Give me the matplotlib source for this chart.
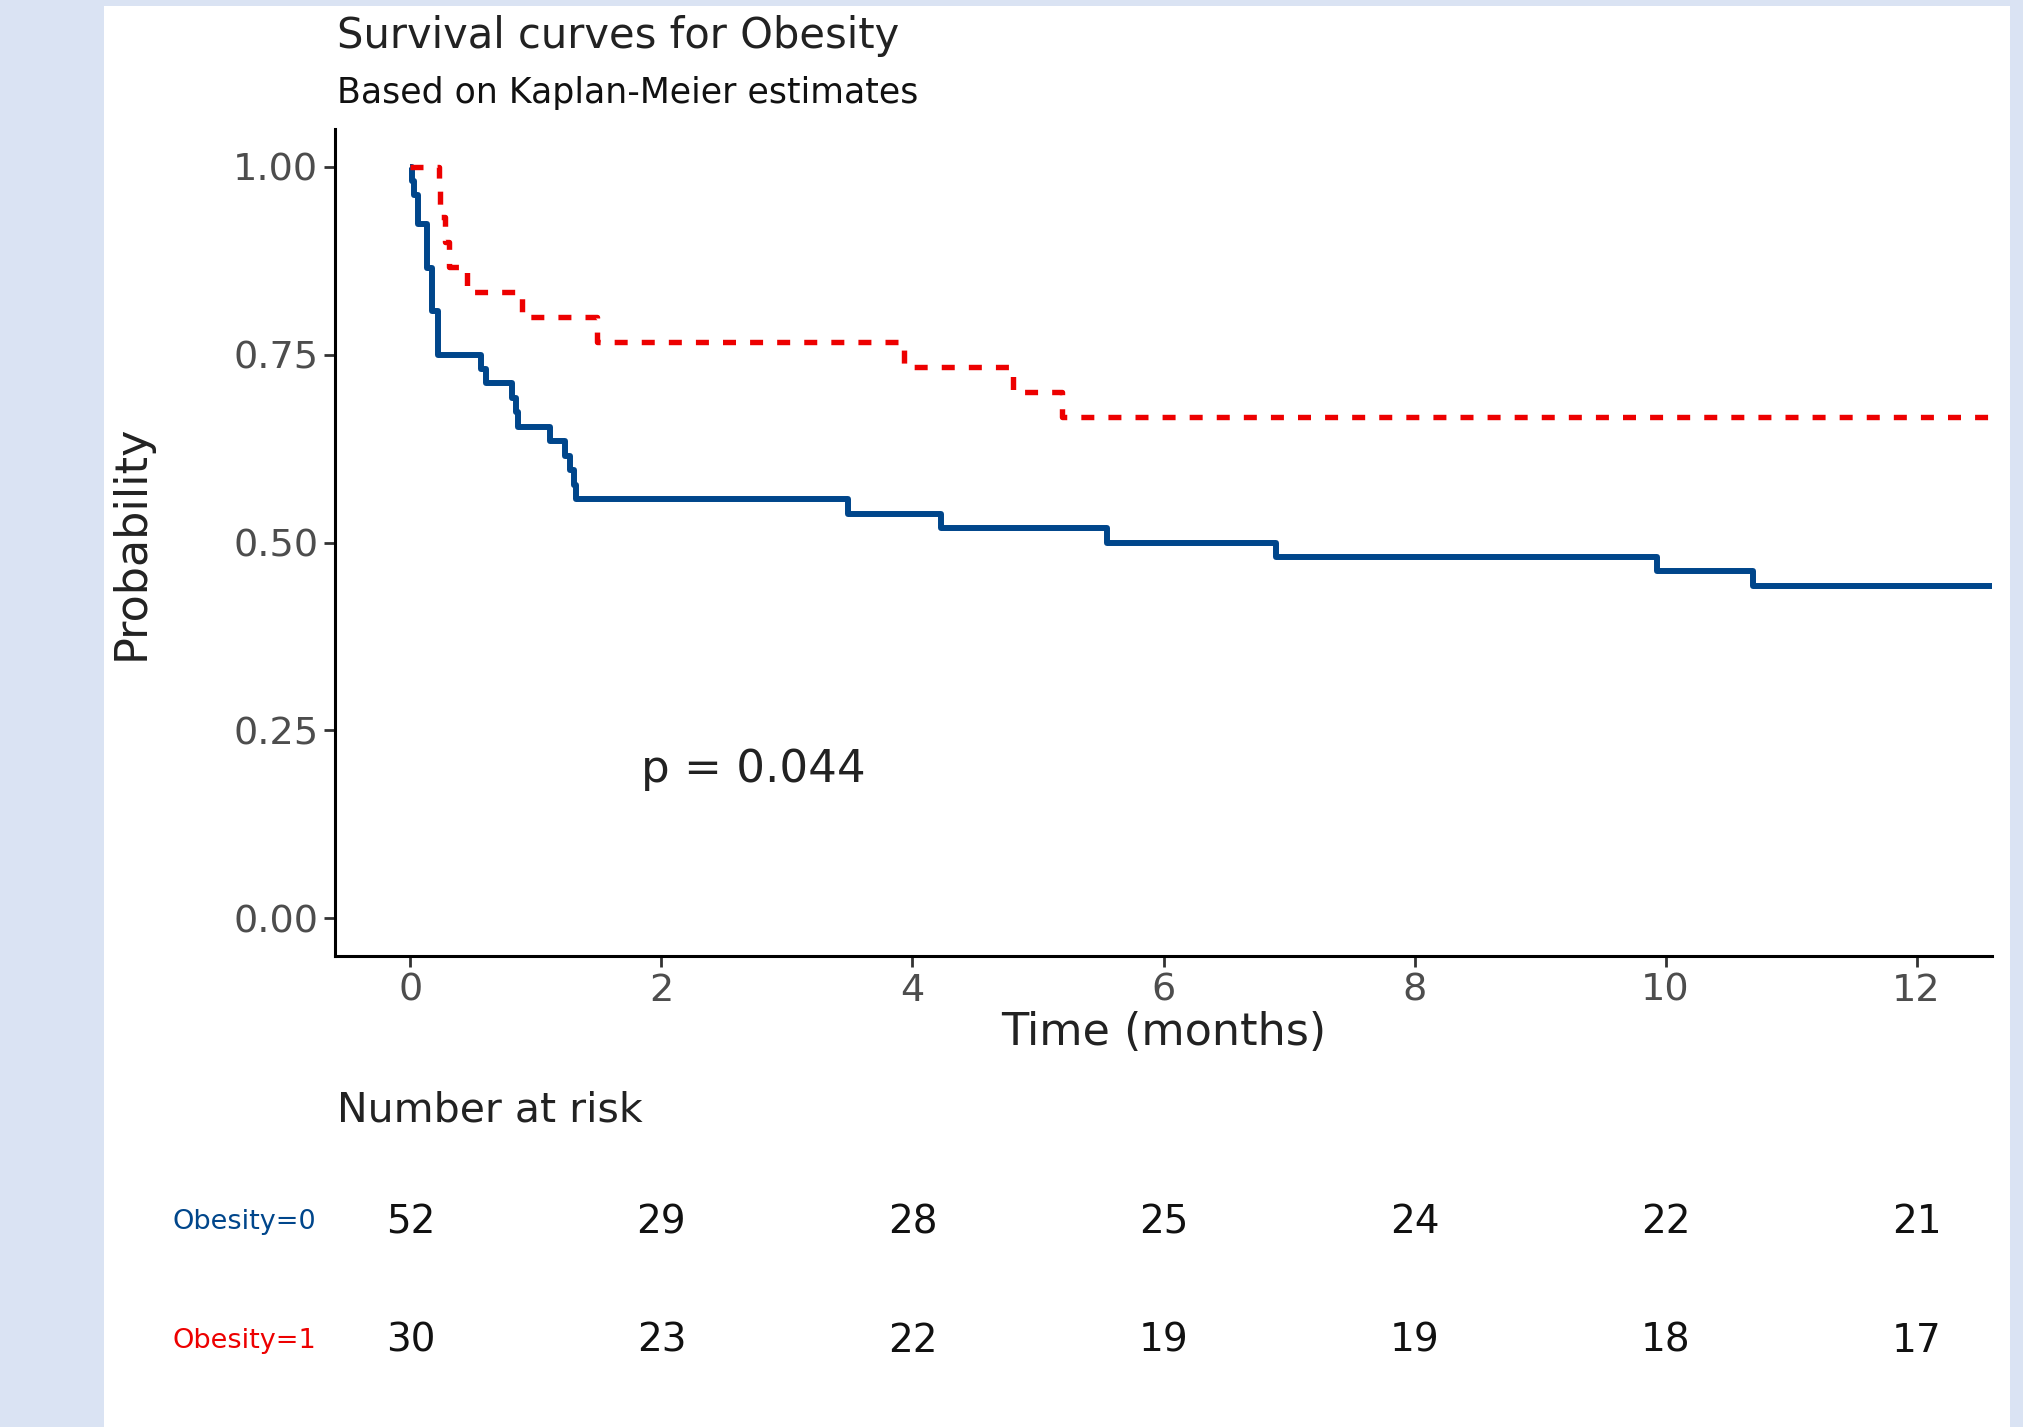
import matplotlib
matplotlib.use("Agg")
import matplotlib.pyplot as plt
from matplotlib.patches import Rectangle
from matplotlib.transforms import blended_transform_factory

# Kaplan-Meier step values
blue_t = [0, 0.01, 0.03, 0.06, 0.13, 0.17, 0.22, 0.56, 0.60, 0.81, 0.84, 0.86,
          1.11, 1.23, 1.27, 1.30, 1.32, 3.49, 4.23, 5.55, 6.90, 9.93, 10.70, 12.6]
blue_s = [1.0, 0.981, 0.962, 0.923, 0.865, 0.808, 0.75, 0.731, 0.712, 0.692, 0.673, 0.654,
          0.635, 0.615, 0.596, 0.577, 0.558, 0.538, 0.519, 0.50, 0.481, 0.462, 0.442, 0.442]
red_t = [0, 0.23, 0.24, 0.28, 0.31, 0.45, 0.89, 1.49, 3.93, 4.80, 5.19, 12.6]
red_s = [1.0, 0.967, 0.933, 0.90, 0.867, 0.833, 0.80, 0.767, 0.733, 0.70, 0.667, 0.667]

risk_times = [0, 2, 4, 6, 8, 10, 12]
risk0 = [52, 29, 28, 25, 24, 22, 21]
risk1 = [30, 23, 22, 19, 19, 18, 17]
groups = ["Obesity=0", "Obesity=1"]

blue = "#00468B"
red = "#ED0000"

fig = plt.figure(figsize=(20.23, 14.27), dpi=100)
fig.patch.set_facecolor("#dae3f3")
fig.patches.append(Rectangle((104/2023, 0), (2010-104)/2023, 1-6/1427,
                             transform=fig.transFigure, facecolor="white",
                             edgecolor="none", zorder=-10))

ax = fig.add_axes([335/2023, 1-956/1427, (1992-335)/2023, (956-129)/1427])
ax.set_zorder(1)
ax.set_facecolor("white")

ax.step(blue_t, blue_s, where="post", color=blue, lw=4.3, solid_capstyle="butt")
ax.step(red_t, red_s, where="post", color=red, lw=3.9, dashes=(2.4, 2.6),
        dash_capstyle="butt")

ax.set_xlim(-0.6, 12.6)
ax.set_ylim(-0.05, 1.05)
ax.set_xticks(risk_times)
ax.set_yticks([0, 0.25, 0.5, 0.75, 1.0])
ax.set_yticklabels(["0.00", "0.25", "0.50", "0.75", "1.00"])
for s in ["top", "right"]:
    ax.spines[s].set_visible(False)
for s in ["left", "bottom"]:
    ax.spines[s].set_linewidth(2.2)
ax.tick_params(length=8, width=2, color="#333333", labelsize=27.5,
               labelcolor="#4d4d4d", pad=4)

ax.set_xlabel("Time (months)", fontsize=32, color="#222222", labelpad=2)
ax.set_ylabel("Probability", fontsize=32, color="#222222", labelpad=58)

ax.text(1.84, 0.198, "p = 0.044", fontsize=32.5, color="#222222", va="center", ha="left")

fig.text(337/2023, 1-36/1427, "Survival curves for Obesity", fontsize=30,
         color="#222222", va="center", ha="left")
fig.text(337/2023, 1-93/1427, "Based on Kaplan-Meier estimates", fontsize=25,
         color="#111111", va="center", ha="left")

fig.text(337/2023, 1-1110/1427, "Number at risk", fontsize=29.5,
         color="#222222", va="center", ha="left")

tr = blended_transform_factory(ax.transData, fig.transFigure)
rows_y = [1-1222/1427, 1-1341/1427]
for yy, counts, name, c in zip(rows_y, [risk0, risk1], groups, [blue, red]):
    fig.text(316/2023, yy, name, fontsize=19.5, color=c, ha="right", va="center")
    for t, n in zip(risk_times, counts):
        ax.text(t, yy, str(n), transform=tr, fontsize=28, color="#111111",
                ha="center", va="center", clip_on=False)

fig.savefig("out.png", dpi=100, facecolor=fig.get_facecolor())
